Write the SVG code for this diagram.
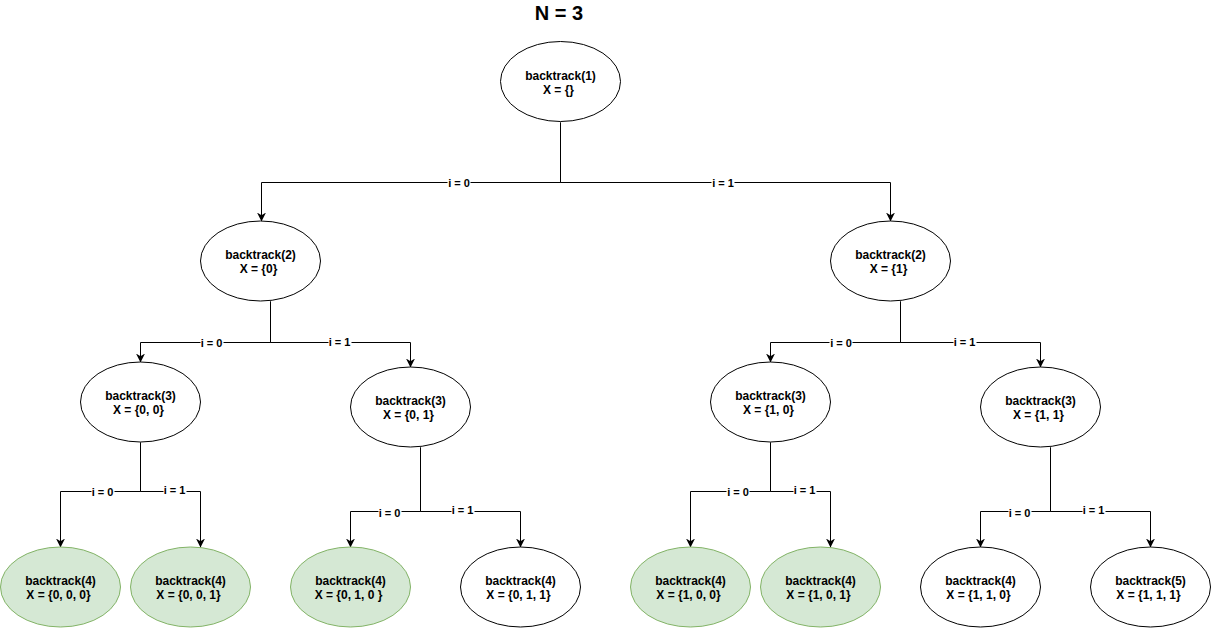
<svg xmlns="http://www.w3.org/2000/svg" width="1211" height="629" viewBox="0 0 1211 629">
<style>
.n ellipse{fill:#ffffff;stroke:#000000;stroke-width:1}
.g ellipse{fill:#d5e8d4;stroke:#82b366;stroke-width:1}
text{font-family:"Liberation Sans",Arial,Helvetica,sans-serif;font-weight:bold;fill:#000000}
.t{font-size:12px;text-anchor:middle}
.lbl rect{fill:#ffffff}
.lbl text{font-size:11px;text-anchor:middle}
.e{fill:none;stroke:#000000;stroke-width:1}
</style>
<defs>
<marker id="arr" viewBox="0 0 10 10" refX="10" refY="5" markerWidth="9" markerHeight="9" markerUnits="userSpaceOnUse" orient="auto">
<path d="M0,0 L10,5 L0,10 L3,5 z" fill="#000000"/>
</marker>
</defs>
<rect width="1211" height="629" fill="#ffffff"/>
<text x="559" y="20" style="font-size:20px;text-anchor:middle">N = 3</text>

<g id="connectors" transform="translate(0.5,0.5)">
<path class="e" d="M560,122 V182 H261 V221" marker-end="url(#arr)"/>
<path class="e" d="M560,122 V182 H890 V221" marker-end="url(#arr)"/>
<path class="e" d="M270,301 V342 H140 V362" marker-end="url(#arr)"/>
<path class="e" d="M270,301 V342 H410 V367" marker-end="url(#arr)"/>
<path class="e" d="M900,301 V342 H770 V362" marker-end="url(#arr)"/>
<path class="e" d="M900,301 V342 H1040 V367" marker-end="url(#arr)"/>
<path class="e" d="M140,442 V491 H60 V547" marker-end="url(#arr)"/>
<path class="e" d="M140,442 V491 H200 V547" marker-end="url(#arr)"/>
<path class="e" d="M420,447 V511 H350 V547" marker-end="url(#arr)"/>
<path class="e" d="M420,447 V511 H520 V547" marker-end="url(#arr)"/>
<path class="e" d="M770,442 V491 H690 V547" marker-end="url(#arr)"/>
<path class="e" d="M770,442 V491 H830 V547" marker-end="url(#arr)"/>
<path class="e" d="M1050,447 V511 H980 V547" marker-end="url(#arr)"/>
<path class="e" d="M1050,447 V511 H1150 V547" marker-end="url(#arr)"/>
<g class="lbl">
<rect x="447" y="176" width="23" height="12"/><text x="458.5" y="186">i = 0</text>
<rect x="711" y="176" width="23" height="12"/><text x="722.5" y="186">i = 1</text>
<rect x="200" y="336" width="23" height="12"/><text x="211" y="346">i = 0</text>
<rect x="328" y="335" width="23" height="12"/><text x="339" y="345">i = 1</text>
<rect x="829" y="336" width="23" height="12"/><text x="840.5" y="346">i = 0</text>
<rect x="953" y="335" width="23" height="12"/><text x="964" y="345">i = 1</text>
<rect x="91" y="485" width="23" height="12"/><text x="102" y="495">i = 0</text>
<rect x="163" y="483" width="23" height="12"/><text x="174" y="493">i = 1</text>
<rect x="378" y="506" width="23" height="12"/><text x="389" y="516">i = 0</text>
<rect x="451" y="503" width="23" height="12"/><text x="462" y="513">i = 1</text>
<rect x="726" y="485" width="23" height="12"/><text x="737.5" y="495">i = 0</text>
<rect x="793" y="483" width="23" height="12"/><text x="804" y="493">i = 1</text>
<rect x="1008" y="506" width="23" height="12"/><text x="1019" y="516">i = 0</text>
<rect x="1082" y="503" width="23" height="12"/><text x="1093" y="513">i = 1</text>
</g>
</g>

<g id="n1" class="n"><ellipse cx="560.5" cy="81.5" rx="60" ry="40"/><text class="t" x="560.5" y="79.5">backtrack(1)</text><text class="t" x="558.5" y="93.5">X = {}</text></g>
<g id="n2a" class="n"><ellipse cx="260.5" cy="261" rx="60" ry="40"/><text class="t" x="260.5" y="259">backtrack(2)</text><text class="t" x="258.5" y="273">X = {0}</text></g>
<g id="n2b" class="n"><ellipse cx="890.5" cy="261" rx="60" ry="40"/><text class="t" x="890.5" y="259">backtrack(2)</text><text class="t" x="888.5" y="273">X = {1}</text></g>
<g id="n3a" class="n"><ellipse cx="140.5" cy="402" rx="60" ry="40"/><text class="t" x="140.5" y="400">backtrack(3)</text><text class="t" x="138.5" y="414">X = {0, 0}</text></g>
<g id="n3b" class="n"><ellipse cx="410.5" cy="407" rx="60" ry="40"/><text class="t" x="410.5" y="405">backtrack(3)</text><text class="t" x="408.5" y="419">X = {0, 1}</text></g>
<g id="n3c" class="n"><ellipse cx="770.5" cy="402" rx="60" ry="40"/><text class="t" x="770.5" y="400">backtrack(3)</text><text class="t" x="768.5" y="414">X = {1, 0}</text></g>
<g id="n3d" class="n"><ellipse cx="1040.5" cy="407" rx="60" ry="40"/><text class="t" x="1040.5" y="405">backtrack(3)</text><text class="t" x="1038.5" y="419">X = {1, 1}</text></g>
<g id="n4a" class="g"><ellipse cx="60.5" cy="587" rx="60" ry="40"/><text class="t" x="60.5" y="585">backtrack(4)</text><text class="t" x="58.5" y="599">X = {0, 0, 0}</text></g>
<g id="n4b" class="g"><ellipse cx="190.5" cy="587" rx="60" ry="40"/><text class="t" x="190.5" y="585">backtrack(4)</text><text class="t" x="188.5" y="599">X = {0, 0, 1}</text></g>
<g id="n4c" class="g"><ellipse cx="350.5" cy="587" rx="60" ry="40"/><text class="t" x="350.5" y="585">backtrack(4)</text><text class="t" x="348.5" y="599">X = {0, 1, 0 }</text></g>
<g id="n4d" class="n"><ellipse cx="520.5" cy="587" rx="60" ry="40"/><text class="t" x="520.5" y="585">backtrack(4)</text><text class="t" x="518.5" y="599">X = {0, 1, 1}</text></g>
<g id="n4e" class="g"><ellipse cx="690.5" cy="587" rx="60" ry="40"/><text class="t" x="690.5" y="585">backtrack(4)</text><text class="t" x="688.5" y="599">X = {1, 0, 0}</text></g>
<g id="n4f" class="g"><ellipse cx="820.5" cy="587" rx="60" ry="40"/><text class="t" x="820.5" y="585">backtrack(4)</text><text class="t" x="818.5" y="599">X = {1, 0, 1}</text></g>
<g id="n4g" class="n"><ellipse cx="980.5" cy="587" rx="60" ry="40"/><text class="t" x="980.5" y="585">backtrack(4)</text><text class="t" x="978.5" y="599">X = {1, 1, 0}</text></g>
<g id="n4h" class="n"><ellipse cx="1150.5" cy="587" rx="60" ry="40"/><text class="t" x="1150.5" y="585">backtrack(5)</text><text class="t" x="1148.5" y="599">X = {1, 1, 1}</text></g>
</svg>
